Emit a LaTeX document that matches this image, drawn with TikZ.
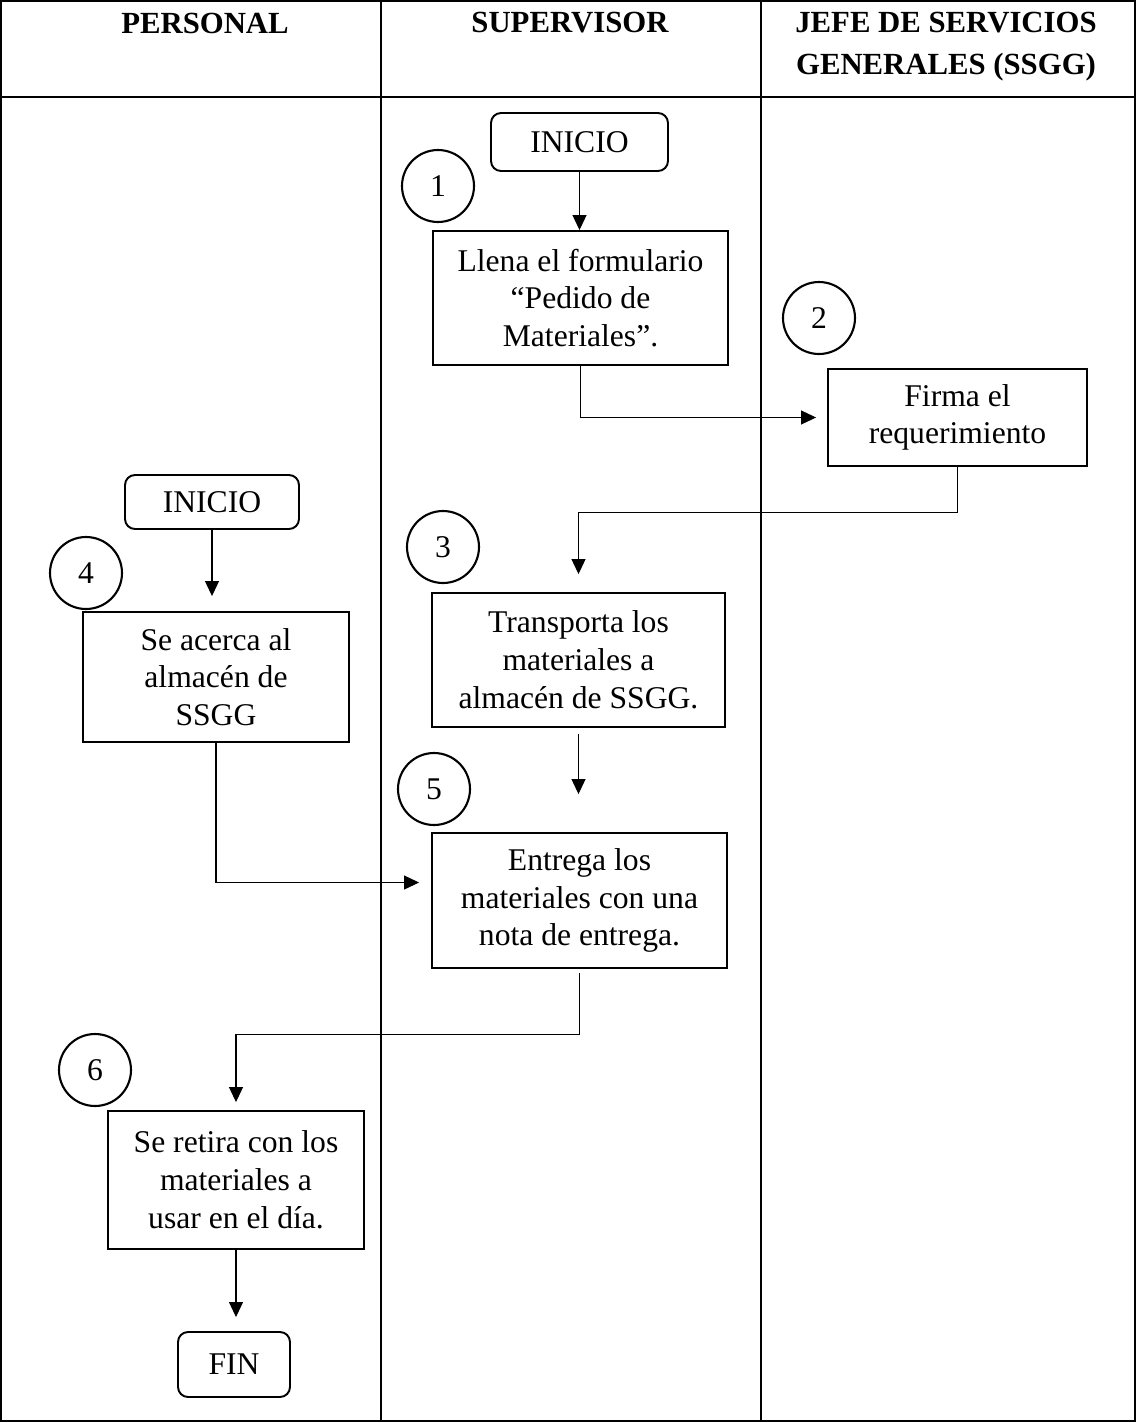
\documentclass[tikz,border=0pt]{standalone}
\usepackage{fontspec}
\setmainfont{Liberation Serif}
\usetikzlibrary{positioning, arrows.meta}
\tikzset{
>={Triangle[length=0.3cm, width=0.28cm]}, % filled arrow heads
every node/.style={font=\fontsize{18}{21.5}\selectfont}, % text size of the whole sheet
paso/.style={draw, line width=1.1pt, align=center, inner sep=0pt}, % one step of the process
inicio/.style={draw, rounded corners=0.2cm, line width=1.1pt}, % start and end boxes
num/.style={draw, circle, line width=1.2pt, minimum size=1.44cm, inner sep=0pt}, % number of the step
flecha/.style={->, line width=0.6pt}, % connector between steps
linea/.style={line width=1.1pt}, % rules of the table
titulo/.style={font=\bfseries\fontsize{17.5}{24}\selectfont, align=center}, % column heads
}

\begin{document}
\begin{tikzpicture}[x=0.02cm, y=-0.02cm]
    \useasboundingbox (0,0) rectangle (1136,1423);

    % table
    \draw[linea] (1,1) rectangle (1135,1421);
    \draw[linea] (1,97) -- (1135,97);
    \draw[linea] (381,1) -- (381,1421);
    \draw[linea] (761,1) -- (761,1421);
    \node[titulo] (h1) at (205,23) {PERSONAL};
    \node[titulo] (h2) at (570,23) {SUPERVISOR};
    \node[titulo] (h3) at (946,47) {JEFE DE SERVICIOS\\GENERALES (SSGG)};

    % steps
    \node[inicio, minimum width=3.54cm, minimum height=1.16cm] (ini1) at (579.5,142) {INICIO};
    \node[num] (c1) at (438,186) {1};
    \node[paso, minimum width=5.9cm, minimum height=2.68cm] (s1) at (580.5,298) {Llena el formulario\\“Pedido de\\Materiales”.};
    \node[num] (c2) at (819,318) {2};
    \node[paso, minimum width=5.18cm, minimum height=1.94cm] (s2) at (957.5,417.5) {Firma el\\requerimiento};
    \node[num] (c3) at (443,547) {3};
    \node[paso, minimum width=5.86cm, minimum height=2.68cm] (s3) at (578.5,660) {Transporta los\\materiales a\\almacén de SSGG.};
    \node[inicio, minimum width=3.48cm, minimum height=1.08cm] (ini2) at (212,502) {INICIO};
    \node[num] (c4) at (86,573) {4};
    \node[paso, minimum width=5.32cm, minimum height=2.6cm] (s4) at (216,677) {Se acerca al\\almacén de\\SSGG};
    \node[num] (c5) at (434,789) {5};
    \node[paso, minimum width=5.9cm, minimum height=2.7cm] (s5) at (579.5,900.5) {Entrega los\\materiales con una\\nota de entrega.};
    \node[num] (c6) at (95,1070) {6};
    \node[paso, minimum width=5.12cm, minimum height=2.76cm] (s6) at (236,1180) {Se retira con los\\materiales a\\usar en el día.};
    \node[inicio, minimum width=2.24cm, minimum height=1.3cm] (fin) at (234,1364.5) {FIN};

    % connectors
    \draw[flecha] (ini1.south) -- (ini1.south |- s1.north);
    \draw[flecha, shorten >=0.22cm] (s1.south) |- (s2.west);
    \draw[flecha, shorten >=0.36cm] (s2.south) -- ++(0,46) -| (s3.north);
    \draw[flecha, shorten >=0.3cm] (ini2.south) -- (ini2.south |- s4.north);
    \draw[flecha, shorten <=0.12cm, shorten >=0.76cm] (s3.south) -- (s3.south |- s5.north);
    \draw[flecha, shorten >=0.24cm] (s4.south) |- ([yshift=0.36cm]s5.west);
    \draw[flecha, shorten <=0.08cm, shorten >=0.16cm] (s5.south) -- ++(0,66) -| (s6.north);
    \draw[flecha, shorten >=0.28cm] (s6.south) -- (s6.south |- fin.north);
\end{tikzpicture}
\end{document}
